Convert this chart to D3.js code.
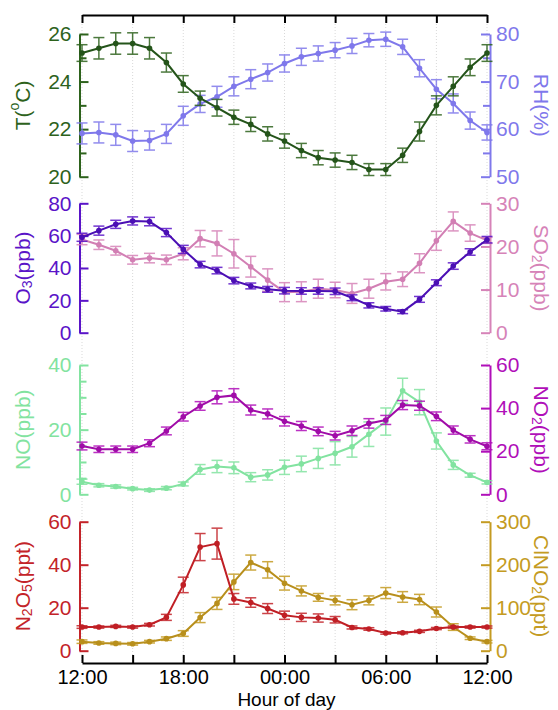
<!DOCTYPE html>
<html><head><meta charset="utf-8">
<script src="https://cdn.jsdelivr.net/npm/d3@7"></script>
<style>
html,body{margin:0;padding:0;background:#fff;}
svg text{font-family:"Liberation Sans",Arial,Helvetica,sans-serif;}
</style></head>
<body>
<svg id="chart" width="558" height="710"></svg>
<script>
// ---------------- data ----------------
const hours = [12,13,14,15,16,17,18,19,20,21,22,23,24,25,26,27,28,29,30,31,32,33,34,35,36];
const xTickValues = [12,18,24,30,36];
const xTickLabels = ["12:00","18:00","00:00","06:00","12:00"];
const xMinorTicks = [15,21,27,33];

const T      = [25.2,25.4,25.6,25.6,25.4,24.8,23.9,23.3,22.9,22.5,22.2,21.8,21.5,21.1,20.8,20.7,20.6,20.3,20.3,20.9,21.9,23.0,23.8,24.6,25.2];
const T_err  = [0.35,0.45,0.45,0.45,0.45,0.4,0.35,0.3,0.35,0.3,0.3,0.3,0.3,0.3,0.3,0.3,0.3,0.25,0.25,0.3,0.4,0.4,0.4,0.35,0.35];
const RH     = [59.1,59.3,58.8,57.5,57.6,59.0,62.8,65.3,66.8,69.0,70.5,71.9,73.8,75.2,75.9,76.6,77.5,78.7,78.9,77.3,72.8,68.4,65.4,61.8,59.3];
const RH_err = [2.2,2.2,2.2,2.2,2.0,2.0,2.0,1.8,2.2,2.0,2.0,1.8,1.8,1.8,1.6,1.6,1.6,1.4,1.5,1.6,1.8,2.0,2.0,1.8,1.6];

const O3      = [59,63.1,67,69.1,68.7,61.9,51.5,42.1,38.4,32.2,28.9,26.8,26,25.8,25.8,25.6,21.6,16.9,14.8,13,20.6,30.9,41.2,49.9,57.5];
const O3_err  = [2.5,2.8,2.5,2.5,2.6,2.5,2.5,2,2,2,1.8,1.8,2,2,2,2,1.8,1.6,1.4,1.2,1.8,1.8,2,2,2];
const SO2     = [21.6,20.4,19.0,16.9,17.3,16.9,18.3,21.8,20.7,18.3,15.3,12.2,9.4,9.5,10.2,9.9,9.1,10.2,11.8,12.4,16.1,21.3,25.8,23.1,21.4];
const SO2_err = [1.2,1.1,1.0,1.0,1.1,1.1,1.4,1.9,2.9,3.3,2.4,2.6,2.2,2.3,2.2,1.8,2.3,2.2,1.9,1.7,2.2,2.2,2.2,1.9,0.7];

const NO      = [3.9,2.8,2.4,1.75,1.3,1.9,3.2,7.7,8.6,8.2,5.3,6.0,8.35,9.4,11.1,12.7,14.7,18.6,22.5,32.0,28.5,16.5,9.1,5.9,3.7];
const NO_err  = [0.8,0.5,0.5,0.4,0.4,0.5,0.6,1.5,1.9,1.8,1.4,1.6,2.2,2.4,3.1,3.6,3.2,3.8,4.2,3.9,3.9,2.5,1.4,0.6,0.5];
const NO2     = [22.4,20.9,20.9,20.9,23.7,29.4,36.0,41.0,45.0,45.9,39.1,37.3,33.9,31.7,29.2,27.2,29.5,32.9,34.5,41.4,41.1,36.2,29.8,25.5,22.3];
const NO2_err = [1.8,1.5,1.5,1.5,1.6,1.8,2,2,3,3.1,2.3,2.3,2.2,2.1,2,2,2.2,2.2,2.1,2.1,2.1,2,1.9,1.7,1.6];

const N2O5      = [11.0,11.0,11.3,11.0,12.1,15.5,30.6,48.2,49.8,24.1,22.4,19.6,16.5,15.5,15.2,14.4,10.8,10.1,8.2,8.35,9.0,10.3,11.0,11.0,11.0];
const N2O5_err  = [0.6,0.5,0.5,0.5,0.6,1.4,3.6,6.3,7.2,2.5,2.2,2.3,1.9,1.9,1.9,1.5,0.7,0.6,0.5,0.5,0.5,0.5,0.5,0.5,0.5];
const ClNO2     = [21,18,17,16,21,28,40,77,110,160,205,188,157,139,124,117,107,117,134,125,119,90,55,29,21];
const ClNO2_err = [4,3,3,3,3,4,6.6,11.6,14,18,17.4,19,16,11.6,9,10.4,11.6,10.4,12.8,12.4,12,11.6,7.7,3,3];

// ---------------- layout ----------------
const svg = d3.select("#chart");
const FONT = 21;
const FAM = '"Liberation Sans",Arial,sans-serif';
const xLeft = 82, xRight = 487;
const axL = 79.5, axR = 490;
const topAxisY = 15, bottomAxisY = 663;
const x = d3.scaleLinear().domain([12,36]).range([xLeft,xRight]);

const panels = [
  { top:34, bottom:176.7, order:["R","L"],
    L:{ key:"T", vals:T, err:T_err, domain:[20,26], ticks:[20,22,24,26], minor:[21,23,25],
        color:"#2d621c", line:"#24541a", title:[["T("],["o","sup"],["C)"]] },
    R:{ key:"RH", vals:RH, err:RH_err, domain:[50,80], ticks:[50,60,70,80], minor:[55,65,75],
        color:"#7f78eb", line:"#7f78eb", title:[["RH(%)"]] } },
  { top:203.3, bottom:332.7, order:["R","L"],
    L:{ key:"O3", vals:O3, err:O3_err, domain:[0,80], ticks:[0,20,40,60,80], minor:[],
        color:"#5a14c8", line:"#4b0fb4", title:[["O"],["3","sub"],["(ppb)"]] },
    R:{ key:"SO2", vals:SO2, err:SO2_err, domain:[0,30], ticks:[0,10,20,30], minor:[],
        color:"#d683b8", line:"#d27fb4", title:[["SO"],["2","sub"],["(ppb)"]] } },
  { top:365, bottom:494.3, order:["L","R"],
    L:{ key:"NO", vals:NO, err:NO_err, domain:[0,40], ticks:[0,20,40], minor:[5,10,15,25,30,35],
        color:"#82e3a0", line:"#82e3a0", title:[["NO(ppb)"]] },
    R:{ key:"NO2", vals:NO2, err:NO2_err, domain:[0,60], ticks:[0,20,40,60], minor:[],
        color:"#b00fb9", line:"#a00ca8", title:[["NO"],["2","sub"],["(ppb)"]] } },
  { top:521.7, bottom:650.7, order:["R","L"],
    L:{ key:"N2O5", vals:N2O5, err:N2O5_err, domain:[0,60], ticks:[0,20,40,60], minor:[],
        color:"#c32329", line:"#c01f25", title:[["N"],["2","sub"],["O"],["5","sub"],["(ppt)"]] },
    R:{ key:"ClNO2", vals:ClNO2, err:ClNO2_err, domain:[0,300], ticks:[0,100,200,300], minor:[],
        color:"#c49b22", line:"#b88f1c", title:[["ClNO"],["2","sub"],["(ppt)"]] } }
];

// ---------------- vertical dotted grid ----------------
const gridVals = xTickValues.concat(xMinorTicks);
svg.append("g").selectAll("line").data(gridVals).join("line")
  .attr("x1", d=>x(d)).attr("x2", d=>x(d))
  .attr("y1", topAxisY).attr("y2", bottomAxisY)
  .attr("stroke", "#d9d9d9").attr("stroke-width", 1).attr("stroke-dasharray", "1,2");

// ---------------- top & bottom x axes ----------------
const allX = gridVals.slice().sort((a,b)=>a-b);
const topAxis = d3.axisBottom(x).tickValues(allX).tickSize(8).tickSizeOuter(0).tickFormat("");
svg.append("g").attr("transform", `translate(0,${topAxisY})`).call(topAxis)
  .call(g=>g.selectAll("path,line").attr("stroke","#000").attr("stroke-width",2));

const labelMap = new Map(xTickValues.map((v,i)=>[v,xTickLabels[i]]));
const botAxis = d3.axisBottom(x).tickValues(allX).tickSize(-8).tickSizeOuter(0).tickPadding(7)
  .tickFormat(d=> labelMap.has(d) ? labelMap.get(d) : "");
svg.append("g").attr("transform", `translate(0,${bottomAxisY})`).call(botAxis)
  .call(g=>g.selectAll("path,line").attr("stroke","#000").attr("stroke-width",2))
  .call(g=>g.selectAll("text").attr("font-size",20).attr("fill","#000").attr("font-family",FAM));

svg.append("text").attr("x", (xLeft+xRight)/2 + 2).attr("y", 705.5)
  .attr("text-anchor","middle").attr("font-size",19).attr("fill","#000").text("Hour of day");

// ---------------- panels ----------------
function addTitle(parts, xPos, yPos, rot, color){
  const t = svg.append("text")
    .attr("transform", `translate(${xPos},${yPos}) rotate(${rot})`)
    .attr("text-anchor","middle").attr("dominant-baseline","central")
    .attr("font-size",21).attr("fill",color);
  let shift = 0;
  parts.forEach(p=>{
    const ts = t.append("tspan").text(p[0]);
    let target = 0;
    if (p[1]==="sub") { ts.attr("font-size",14); target = 5; }
    if (p[1]==="sup") { ts.attr("font-size",14); target = -8; }
    if (target !== shift) { ts.attr("dy", target - shift); shift = target; }
  });
}

function drawSeries(s, y){
  const g = svg.append("g");
  const cap = 5.5;
  const eb = g.append("g").attr("stroke", s.color).attr("stroke-width",1.5).attr("opacity",0.85);
  hours.forEach((h,i)=>{
    const cx = x(h), y1 = y(s.vals[i]-s.err[i]), y2 = y(s.vals[i]+s.err[i]);
    eb.append("line").attr("x1",cx).attr("x2",cx).attr("y1",y1).attr("y2",y2);
    eb.append("line").attr("x1",cx-cap).attr("x2",cx+cap).attr("y1",y1).attr("y2",y1);
    eb.append("line").attr("x1",cx-cap).attr("x2",cx+cap).attr("y1",y2).attr("y2",y2);
  });
  const line = d3.line().x((d,i)=>x(hours[i])).y(d=>y(d));
  g.append("path").datum(s.vals).attr("d", line)
    .attr("fill","none").attr("stroke", s.line).attr("stroke-width",2);
  g.append("g").selectAll("circle").data(s.vals).join("circle")
    .attr("cx",(d,i)=>x(hours[i])).attr("cy",d=>y(d)).attr("r",2.8).attr("fill",s.line);
}

const fmt = d3.format("d");
panels.forEach(p=>{
  const yL = d3.scaleLinear().domain(p.L.domain).range([p.bottom,p.top]);
  const yR = d3.scaleLinear().domain(p.R.domain).range([p.bottom,p.top]);
  const mid = (p.top+p.bottom)/2;

  const gl = svg.append("g").attr("transform",`translate(${axL},0)`);
  gl.call(d3.axisLeft(yL).tickValues(p.L.ticks).tickFormat(fmt).tickSize(-9).tickSizeOuter(0).tickPadding(8));
  if (p.L.minor.length) gl.append("g").call(d3.axisLeft(yL).tickValues(p.L.minor).tickSize(-7).tickSizeOuter(0).tickFormat(""))
     .select(".domain").remove();
  gl.selectAll("path,line").attr("stroke",p.L.color).attr("stroke-width",2);
  gl.selectAll("text").attr("fill",p.L.color).attr("font-size",FONT).attr("font-family",FAM);

  const gr = svg.append("g").attr("transform",`translate(${axR},0)`);
  gr.call(d3.axisRight(yR).tickValues(p.R.ticks).tickFormat(fmt).tickSize(-9).tickSizeOuter(0).tickPadding(6));
  if (p.R.minor.length) gr.append("g").call(d3.axisRight(yR).tickValues(p.R.minor).tickSize(-7).tickSizeOuter(0).tickFormat(""))
     .select(".domain").remove();
  gr.selectAll("path,line").attr("stroke",p.R.color).attr("stroke-width",2);
  gr.selectAll("text").attr("fill",p.R.color).attr("font-size",FONT).attr("font-family",FAM);

  addTitle(p.L.title, 22, mid, -90, p.L.color);
  addTitle(p.R.title, 542, mid, 90, p.R.color);

  p.order.forEach(side=>{
    if (side==="L") drawSeries(p.L, yL); else drawSeries(p.R, yR);
  });
});
</script>
</body></html>
